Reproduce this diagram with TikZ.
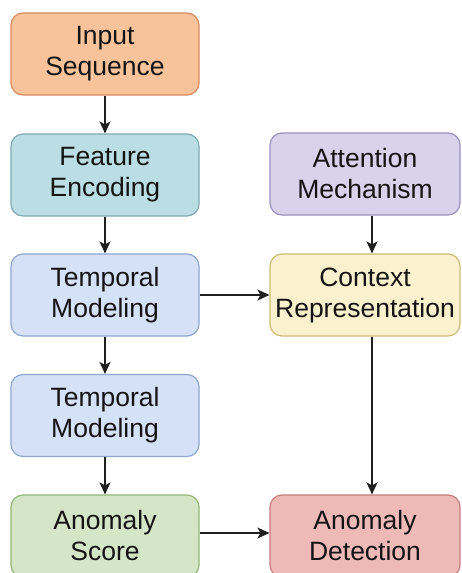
\documentclass[tikz,border=0pt]{standalone}
\usepackage{fontspec}
\setmainfont{Liberation Sans}
\usetikzlibrary{arrows.meta,calc}
\definecolor{inF}{HTML}{F8C39B}\definecolor{inD}{HTML}{D88A5E}
\definecolor{feF}{HTML}{BBDDE4}\definecolor{feD}{HTML}{7FAAB4}
\definecolor{tmF}{HTML}{D4E1F6}\definecolor{tmD}{HTML}{8EA7CE}
\definecolor{scF}{HTML}{D4E6C7}\definecolor{scD}{HTML}{93B679}
\definecolor{atF}{HTML}{D9D2EB}\definecolor{atD}{HTML}{9A90BE}
\definecolor{ctF}{HTML}{FCF1CE}\definecolor{ctD}{HTML}{CDBB78}
\definecolor{dtF}{HTML}{EDBAB8}\definecolor{dtD}{HTML}{C77D7C}
\definecolor{arr}{HTML}{1F1F1F}
\definecolor{txt}{HTML}{141414}
\tikzset{
  box/.style={rectangle, rounded corners=12pt, line width=1.2pt, align=center,
    minimum height=82pt, inner sep=0pt, text=txt,
    font=\fontsize{26.5}{31}\selectfont},
  lbox/.style={box, minimum width=188pt},
  rbox/.style={box, minimum width=190pt},
  conn/.style={-{Stealth[length=12pt,width=11pt,inset=3pt]}, line width=1.5pt, draw=arr}
}
\begin{document}
\begin{tikzpicture}[x=1pt,y=-1pt]
\useasboundingbox[fill=white] (0,0) rectangle (461,573);
\node[lbox, fill=inF, draw=inD] (inp) at (105,54) {Input\\Sequence};
\node[lbox, fill=feF, draw=feD] (fea) at (105,175) {Feature\\Encoding};
\node[lbox, fill=tmF, draw=tmD] (tm1) at (105,295) {Temporal\\Modeling};
\node[lbox, fill=tmF, draw=tmD] (tm2) at (105,415.5) {Temporal\\Modeling};
\node[lbox, fill=scF, draw=scD] (sco) at (105,536) {Anomaly\\Score};
\node[rbox, fill=atF, draw=atD] (att) at (365,174) {Attention\\Mechanism};
\node[rbox, fill=ctF, draw=ctD] (ctx) at (365,295) {Context\\Representation};
\node[rbox, fill=dtF, draw=dtD] (det) at (365,536) {Anomaly\\Detection};
\coordinate (rx) at (372,0);
\draw[conn] (inp) -- (fea);
\draw[conn] (fea) -- (tm1);
\draw[conn] (tm1) -- (tm2);
\draw[conn] (tm2) -- (sco);
\draw[conn] (tm1) -- (ctx);
\draw[conn] (sco.east |- 0,533) -- (det.west |- 0,533);
\draw[conn] (att.south -| rx) -- (ctx.north -| rx);
\draw[conn] (ctx.south -| rx) -- (det.north -| rx);
\end{tikzpicture}
\end{document}
